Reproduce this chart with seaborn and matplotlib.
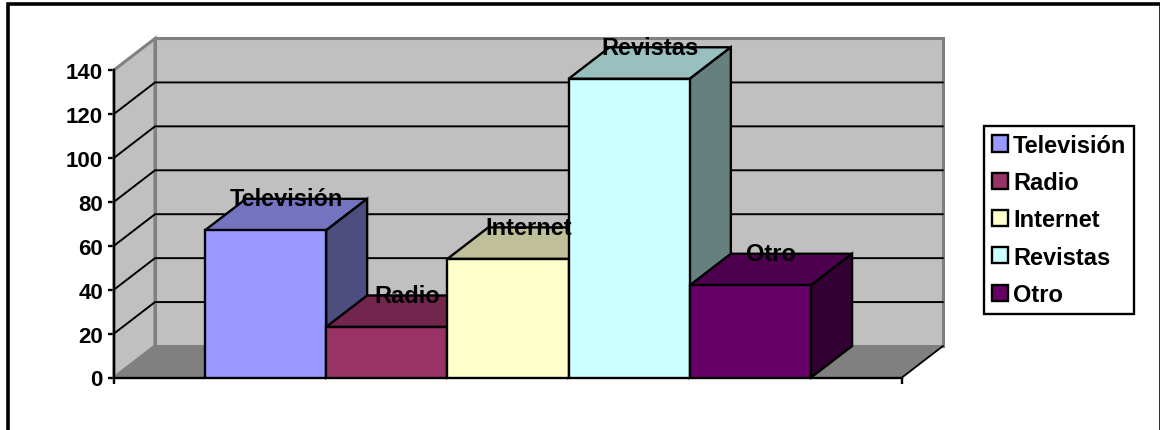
import matplotlib
matplotlib.use("Agg")
import matplotlib.pyplot as plt
from matplotlib.patches import Polygon, Rectangle, Patch
from matplotlib.colors import to_rgb
import pandas as pd
import seaborn as sns

# Data
categories = ["Televisión", "Radio", "Internet", "Revistas", "Otro"]
values = [67, 23, 54, 136, 42]
colors = ["#9999FF", "#993366", "#FFFFCC", "#CCFFFF", "#660066"]
y_ticks = [0, 20, 40, 60, 80, 100, 120, 140]

W, H = 1160, 431
sns.set_theme(style="white")
plt.rcParams["font.family"] = ["Liberation Sans", "DejaVu Sans"]
plt.rcParams["font.weight"] = "bold"
plt.rcParams["text.color"] = "black"
FS = 17
LW = 1.7

fig = plt.figure(figsize=(W / 100, H / 100), dpi=100, facecolor="white")
ax = fig.add_axes([114 / W, (H - 378.5) / H, 788 / W, 307.5 / H])
ax.patch.set_alpha(0)

df = pd.DataFrame({"cat": categories, "val": values})
sns.barplot(data=df, x="cat", y="val", hue="cat", hue_order=categories,
            palette=colors, width=1, dodge=False, saturation=1,
            edgecolor="black", linewidth=LW, legend=False, ax=ax)

XMIN, XMAX = -1.25, 5.25
ax.set_xlim(XMIN, XMAX)
ax.set_ylim(0, 140)
DX = 41 / 121.23   # depth in category units
DY = 31.5 / 2.196  # depth in value units


def poly(pts, fc, ec="none", lw=0, z=1):
    ax.add_patch(Polygon(pts, closed=True, facecolor=fc, edgecolor=ec,
                         linewidth=lw, zorder=z, clip_on=False, joinstyle="miter"))


def shade(c, f):
    return tuple(v * f for v in to_rgb(c))


# Walls and floor
top = y_ticks[-1]
poly([(XMIN + DX, DY), (XMAX + DX, DY), (XMAX + DX, top + DY), (XMIN + DX, top + DY)],
     "#C0C0C0", "#808080", 2.2, 0.5)
poly([(XMIN, 0), (XMIN + DX, DY), (XMIN + DX, top + DY), (XMIN, top)],
     "#C0C0C0", "#808080", 2.2, 0.6)
poly([(XMIN, 0), (XMAX, 0), (XMAX + DX, DY), (XMIN + DX, DY)], "#808080", z=0.7)
ax.plot([XMAX, XMAX + DX], [0, DY], color="black", lw=1.3, zorder=0.8, clip_on=False)

# Gridlines over back and side walls
for t in y_ticks[1:-1]:
    ax.plot([XMIN, XMIN + DX, XMAX + DX], [t, t + DY, t + DY], color="black",
            lw=1.4, zorder=0.9, clip_on=False, solid_joinstyle="miter")

# 3D faces of bars
bars = sorted([p for p in ax.patches if isinstance(p, Rectangle)], key=lambda p: p.get_x())
bars = [b for b in bars if b.get_height() > 0]
for i, (b, v, c) in enumerate(zip(bars, values, colors)):
    x0 = b.get_x()
    x1 = x0 + b.get_width()
    z = 3 + i
    poly([(x0, v), (x1, v), (x1 + DX, v + DY), (x0 + DX, v + DY)], shade(c, 0.75), "black", LW, z)
    poly([(x1, 0), (x1 + DX, DY), (x1 + DX, v + DY), (x1, v)], shade(c, 0.5), "black", LW, z)
    b.set_zorder(z + 0.5)
    ax.text((x0 + x1) / 2 + DX / 2, v + DY, categories[i], ha="center", va="center",
            fontsize=FS, fontweight="bold", color="black", zorder=20, clip_on=False)

# Axes
sns.despine(ax=ax)
for s in ("left", "bottom"):
    ax.spines[s].set_linewidth(LW)
    ax.spines[s].set_color("black")
ax.set_xlabel("")
ax.set_ylabel("")
ax.set_yticks(y_ticks)
ax.set_xticks([XMIN, XMAX])
ax.set_xticklabels(["", ""])
ax.tick_params(axis="both", direction="out", length=4, width=LW, color="black",
               left=True, bottom=True, pad=4)
ax.tick_params(axis="y", labelsize=16, labelcolor="black")
for lab in ax.get_yticklabels():
    lab.set_fontweight("bold")

# Legend
handles = [Patch(facecolor=c, edgecolor="black", linewidth=LW, label=n)
           for n, c in zip(categories, colors)]
leg = fig.legend(handles=handles, loc="upper left",
                 bbox_to_anchor=(984 / W, (H - 127) / H), borderaxespad=0,
                 handlelength=0.68, handleheight=0.68,
                 handletextpad=0.22, labelspacing=0.605, borderpad=0.33,
                 fancybox=False, framealpha=1, edgecolor="black", labelcolor="black",
                 prop={"family": "Liberation Sans", "weight": "bold", "size": FS})
leg.get_frame().set_linewidth(LW)

# Outer border (bottom edge falls outside the canvas)
fig.add_artist(Rectangle((8.3 / W, -0.1), (1160.5 - 8.3) / W, 1.1 - 5.2 / H,
                         transform=fig.transFigure, fill=False, edgecolor="black",
                         linewidth=2.6, clip_on=False, joinstyle="miter"))

fig.savefig("out.png", dpi=100, facecolor="white")
